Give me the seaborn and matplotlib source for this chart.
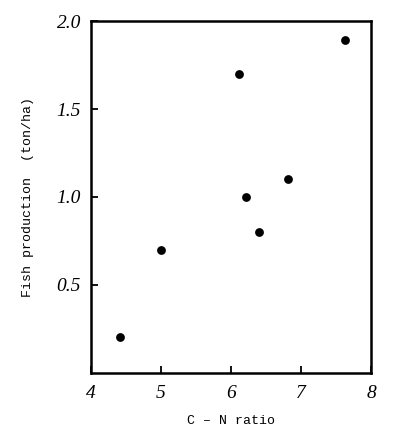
import pandas as pd
import matplotlib
matplotlib.use("Agg")
import matplotlib.pyplot as plt
import seaborn as sns

# C-N ratio vs fish production
cn_ratio = [4.42, 5.0, 6.12, 6.22, 6.4, 6.82, 7.62]
fish_prod = [0.20, 0.70, 1.70, 1.00, 0.80, 1.10, 1.89]

x_ticks = [4, 5, 6, 7, 8]
y_ticks = [0.5, 1.0, 1.5, 2.0]

df = pd.DataFrame({"cn": cn_ratio, "fish": fish_prod})

sns.set_style("white")

fig = plt.figure(figsize=(4.0, 4.41), dpi=100)
ax = fig.add_axes([0.227, 0.155, 0.701, 0.797])

sns.scatterplot(data=df, x="cn", y="fish", ax=ax, color="black",
                s=40, edgecolor="black", linewidth=0, zorder=3)

ax.set_xlim(4, 8)
ax.set_ylim(0, 2.0)
ax.set_xticks(x_ticks)
ax.set_yticks(y_ticks)

tick_font = {"family": "Liberation Serif", "style": "italic", "size": 14}
ax.set_xticklabels([str(t) for t in x_ticks], fontdict=tick_font)
ax.set_yticklabels([f"{t:.1f}" for t in y_ticks], fontdict=tick_font)

ax.tick_params(axis="both", direction="in", length=5, width=1.3,
               color="black", labelcolor="black",
               bottom=True, left=True, top=False, right=False)
ax.tick_params(axis="x", pad=9)
ax.tick_params(axis="y", pad=7)

for sp in ax.spines.values():
    sp.set_visible(True)
    sp.set_linewidth(1.8)
    sp.set_color("black")

ax.set_xlabel("C \u2013 N ratio", family="Liberation Mono", fontsize=9.5,
              labelpad=9, color="black")
ax.set_ylabel("Fish production  (ton/ha)", family="Liberation Mono",
              fontsize=9.5, labelpad=16, color="black")

fig.savefig("out.png", dpi=100, facecolor="white")
